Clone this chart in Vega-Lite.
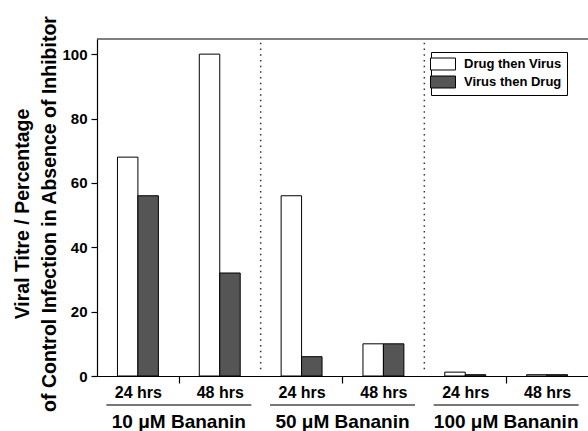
{
  "$schema": "https://vega.github.io/schema/vega-lite/v6.json",
  "width": 491,
  "height": 337,
  "autosize": {"type": "none"},
  "padding": {"left": 97, "top": 39, "right": 0, "bottom": 55},
  "background": "white",
  "config": {"view": {"stroke": null}, "font": "Liberation Sans"},
  "resolve": {"scale": {"x": "independent"}},
  "datasets": {
    "bars": [
      {"cond": "10-24", "series": "Drug then Virus", "value": 68},
      {"cond": "10-24", "series": "Virus then Drug", "value": 56},
      {"cond": "10-48", "series": "Drug then Virus", "value": 100},
      {"cond": "10-48", "series": "Virus then Drug", "value": 32},
      {"cond": "50-24", "series": "Drug then Virus", "value": 56},
      {"cond": "50-24", "series": "Virus then Drug", "value": 6},
      {"cond": "50-48", "series": "Drug then Virus", "value": 10},
      {"cond": "50-48", "series": "Virus then Drug", "value": 10},
      {"cond": "100-24", "series": "Drug then Virus", "value": 1.2},
      {"cond": "100-24", "series": "Virus then Drug", "value": 0.4},
      {"cond": "100-48", "series": "Drug then Virus", "value": 0.4},
      {"cond": "100-48", "series": "Virus then Drug", "value": 0.4}
    ],
    "seps": [{"cond": "50-24"}, {"cond": "100-24"}],
    "groups": [
      {"group": "10 μM Bananin"},
      {"group": "50 μM Bananin"},
      {"group": "100 μM Bananin"}
    ]
  },
  "layer": [
    {
      "data": {"name": "bars"},
      "mark": {"type": "bar", "stroke": "black", "strokeWidth": 1},
      "encoding": {
        "x": {
          "field": "cond",
          "type": "nominal",
          "sort": null,
          "scale": {"domain": ["10-24", "10-48", "50-24", "50-48", "100-24", "100-48"], "paddingInner": 0, "paddingOuter": 0},
          "axis": {
            "title": null,
            "labelExpr": "datum.value == '10-24' || datum.value == '50-24' || datum.value == '100-24' ? '24 hrs' : '48 hrs'",
            "tickOffset": 40.9,
            "labelOffset": -40.9,
            "tickOpacity": {"condition": {"test": "datum.value == '10-24' || datum.value == '50-24' || datum.value == '100-24'", "value": 1}, "value": 0},
            "tickSize": 7,
            "tickWidth": 1.2,
            "tickColor": "black",
            "domainColor": "black",
            "domainWidth": 1.2,
            "labelAngle": 0,
            "labelFontSize": 16,
            "labelFontWeight": "bold",
            "labelColor": "black",
            "labelPadding": 1
          }
        },
        "xOffset": {
          "field": "series",
          "type": "nominal",
          "sort": ["Drug then Virus", "Virus then Drug"],
          "scale": {"paddingInner": 0, "paddingOuter": 1.045}
        },
        "y": {
          "field": "value",
          "type": "quantitative",
          "scale": {"domain": [0, 104.7], "nice": false},
          "axis": {
            "values": [0, 10, 20, 30, 40, 50, 60, 70, 80, 90, 100],
            "labelExpr": "datum.value % 20 == 0 ? datum.label : ''",
            "tickSize": 6,
            "tickColor": "black",
            "tickWidth": 1.2,
            "domainColor": "black",
            "domainWidth": 1.2,
            "grid": false,
            "labelFontSize": 15,
            "labelFontWeight": "bold",
            "labelColor": "black",
            "labelPadding": 4,
            "title": ["Viral Titre / Percentage", "of Control Infection in Absence of Inhibitor"],
            "titleFontSize": 19.5,
            "titleFontWeight": "bold",
            "titleColor": "black",
            "titleLineHeight": 27,
            "titlePadding": 2,
            "titleY": 174.5
          }
        },
        "fill": {
          "field": "series",
          "type": "nominal",
          "scale": {"domain": ["Drug then Virus", "Virus then Drug"], "range": ["white", "#555555"]},
          "legend": {
            "orient": "none",
            "legendX": 334,
            "legendY": 13,
            "title": null,
            "strokeColor": "black",
            "fillColor": "white",
            "padding": 5,
            "symbolType": "M-2,-0.96H2V0.96H-2Z",
            "symbolSize": 156,
            "symbolStrokeColor": "black",
            "symbolStrokeWidth": 1,
            "labelFontSize": 13,
            "labelFontWeight": "bold",
            "labelColor": "black",
            "labelOffset": 14,
            "rowPadding": 2
          }
        }
      }
    },
    {
      "data": {"name": "seps"},
      "mark": {"type": "rule", "strokeDash": [1.5, 4.2], "strokeWidth": 1.5, "color": "#333333"},
      "encoding": {
        "x": {
          "field": "cond",
          "type": "nominal",
          "sort": null,
          "bandPosition": 0,
          "scale": {"domain": ["10-24", "10-48", "50-24", "50-48", "100-24", "100-48"], "paddingInner": 0, "paddingOuter": 0},
          "axis": null
        },
        "y": {"datum": 103.5},
        "y2": {"datum": 1}
      }
    },
    {
      "data": {"values": [{"top": 104.7}]},
      "mark": {"type": "rule", "color": "black", "strokeWidth": 1.2},
      "encoding": {"y": {"field": "top", "type": "quantitative"}}
    },
    {
      "data": {"name": "groups"},
      "mark": {"type": "tick", "size": 145, "thickness": 1.5, "color": "black", "clip": false},
      "encoding": {
        "x": {
          "field": "group",
          "type": "nominal",
          "sort": null,
          "scale": {"domain": ["10 μM Bananin", "50 μM Bananin", "100 μM Bananin"], "paddingInner": 0, "paddingOuter": 0},
          "axis": null
        },
        "y": {"datum": -9}
      }
    },
    {
      "data": {"name": "groups"},
      "mark": {"type": "text", "fontSize": 19, "fontWeight": "bold", "clip": false, "baseline": "middle", "color": "black"},
      "encoding": {
        "x": {
          "field": "group",
          "type": "nominal",
          "sort": null,
          "scale": {"domain": ["10 μM Bananin", "50 μM Bananin", "100 μM Bananin"], "paddingInner": 0, "paddingOuter": 0},
          "axis": null
        },
        "y": {"datum": -14.3},
        "text": {"field": "group"}
      }
    }
  ]
}
